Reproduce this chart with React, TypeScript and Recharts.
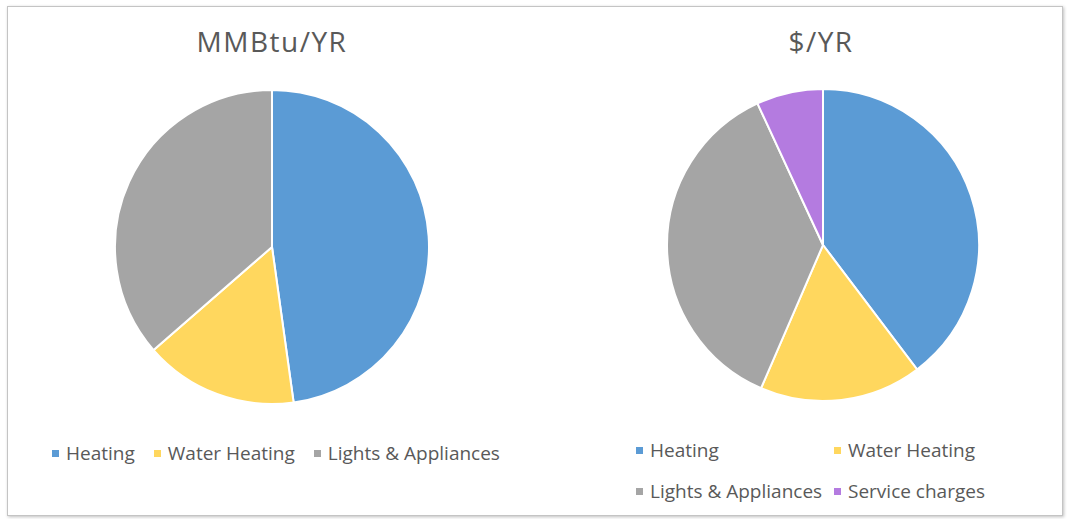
import React from "react";
import { PieChart, Pie, Cell } from "recharts";

const energyCategories = ["Heating", "Water Heating", "Lights & Appliances"];
const energyValues = [47.8, 15.8, 36.4];

const costCategories = ["Heating", "Water Heating", "Lights & Appliances", "Service charges"];
const costValues = [39.7, 16.8, 36.6, 6.9];

const COLORS: Record<string, string> = {
  Heating: "#5B9BD5",
  "Water Heating": "#FFD75E",
  "Lights & Appliances": "#A5A5A5",
  "Service charges": "#B47BE0",
};

const energyData = energyCategories.map((name, i) => ({ name, value: energyValues[i] }));
const costData = costCategories.map((name, i) => ({ name, value: costValues[i] }));

const FONT = "'Open Sans', 'Noto Sans', sans-serif";
const TEXT = "#595959";
const NOMARGIN = { top: 0, right: 0, bottom: 0, left: 0 };

function LegendItem({ name }: { name: string }) {
  return (
    <div style={{ display: "flex", alignItems: "center", whiteSpace: "nowrap" }}>
      <span
        style={{
          display: "inline-block",
          width: 7,
          height: 7,
          background: COLORS[name],
          marginRight: 7,
        }}
      />
      <span>{name}</span>
    </div>
  );
}

export default function App() {
  return (
    <div
      style={{
        position: "absolute",
        left: 0,
        top: 0,
        width: 1073,
        height: 519,
        background: "#fff",
        fontFamily: FONT,
        color: TEXT,
      }}
    >
      <div
        style={{
          position: "absolute",
          left: 7,
          top: 6,
          width: 1056,
          height: 510,
          border: "1px solid #c4c4c4",
          boxShadow: "1px 1px 3px rgba(0,0,0,0.25)",
          boxSizing: "border-box",
        }}
      />
      <div
        style={{
          position: "absolute",
          left: 122,
          top: 21,
          width: 300,
          textAlign: "center",
          fontSize: 28,
          letterSpacing: 1.5,
          lineHeight: "40px",
        }}
      >
        MMBtu/YR
      </div>
      <div
        style={{
          position: "absolute",
          left: 671,
          top: 21,
          width: 300,
          textAlign: "center",
          fontSize: 28,
          letterSpacing: 1.5,
          lineHeight: "40px",
        }}
      >
        $/YR
      </div>

      <div style={{ position: "absolute", left: 0, top: 0 }}>
        <PieChart width={540} height={430} margin={NOMARGIN}>
          <Pie
            data={energyData}
            dataKey="value"
            nameKey="name"
            cx={272}
            cy={247}
            outerRadius={157}
            startAngle={90}
            endAngle={-270}
            stroke="#ffffff"
            strokeWidth={2}
            isAnimationActive={false}
          >
            {energyData.map((d) => (
              <Cell key={d.name} fill={COLORS[d.name]} />
            ))}
          </Pie>
        </PieChart>
      </div>

      <div style={{ position: "absolute", left: 540, top: 0 }}>
        <PieChart width={533} height={430} margin={NOMARGIN}>
          <Pie
            data={costData}
            dataKey="value"
            nameKey="name"
            cx={283}
            cy={245}
            outerRadius={156}
            startAngle={90}
            endAngle={-270}
            stroke="#ffffff"
            strokeWidth={2}
            isAnimationActive={false}
          >
            {costData.map((d) => (
              <Cell key={d.name} fill={COLORS[d.name]} />
            ))}
          </Pie>
        </PieChart>
      </div>

      <div
        style={{
          position: "absolute",
          left: 52,
          top: 440,
          height: 26,
          display: "flex",
          alignItems: "center",
          gap: 19,
          fontSize: 19,
        }}
      >
        {energyCategories.map((n) => (
          <LegendItem key={n} name={n} />
        ))}
      </div>

      <div
        style={{
          position: "absolute",
          left: 636,
          top: 437,
          display: "grid",
          gridTemplateColumns: "198px 200px",
          rowGap: 15,
          fontSize: 19,
          lineHeight: "26px",
        }}
      >
        {costCategories.map((n) => (
          <LegendItem key={n} name={n} />
        ))}
      </div>
    </div>
  );
}
